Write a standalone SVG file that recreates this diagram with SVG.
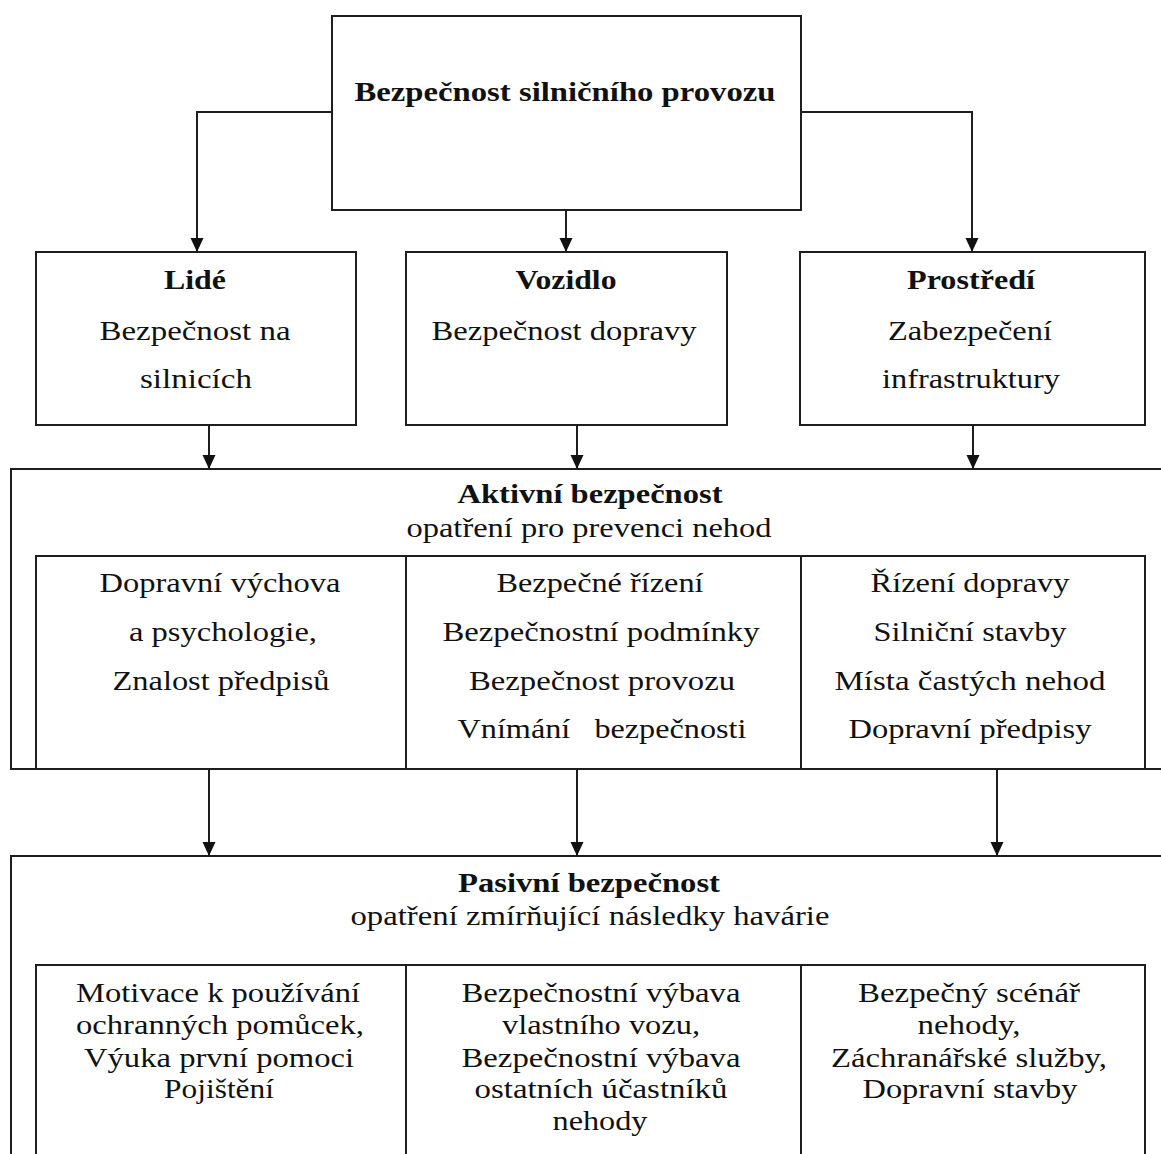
<svg xmlns="http://www.w3.org/2000/svg" width="1161" height="1154" viewBox="0 0 1161 1154">
<defs>
<style>
.box{fill:#fff;stroke:#1e1e1e;stroke-width:2}
.ln{fill:none;stroke:#1e1e1e;stroke-width:2}
.con{fill:none;stroke:#1e1e1e;stroke-width:2;marker-end:url(#ah)}
text{font-family:"Liberation Serif","Times New Roman",serif;font-size:27px;fill:#111;text-anchor:middle}
.b{font-weight:bold}
</style>
<marker id="ah" markerUnits="userSpaceOnUse" viewBox="0 -7 14 14" refX="14" refY="0" markerWidth="14" markerHeight="14" orient="auto">
<path d="M0,-6.5 L14,0 L0,6.5 Z" fill="#111"/>
</marker>
</defs>
<rect width="1161" height="1154" fill="#fff"/>

<g id="root">
<rect class="box" x="332" y="16" width="469" height="194"/>
<text class="b" x="565" y="101" textLength="421" lengthAdjust="spacingAndGlyphs">Bezpečnost silničního provozu</text>
</g>

<g id="lide">
<rect class="box" x="36" y="252" width="320" height="173"/>
<text class="b" x="195" y="289" textLength="62" lengthAdjust="spacingAndGlyphs">Lidé</text>
<text x="195" y="340" textLength="191" lengthAdjust="spacingAndGlyphs">Bezpečnost na</text>
<text x="196" y="388" textLength="112" lengthAdjust="spacingAndGlyphs">silnicích</text>
</g>

<g id="vozidlo">
<rect class="box" x="406" y="252" width="321" height="173"/>
<text class="b" x="566" y="289" textLength="101" lengthAdjust="spacingAndGlyphs">Vozidlo</text>
<text x="564" y="340" textLength="265" lengthAdjust="spacingAndGlyphs">Bezpečnost dopravy</text>
</g>

<g id="prostredi">
<rect class="box" x="800" y="252" width="345" height="173"/>
<text class="b" x="971" y="289" textLength="128" lengthAdjust="spacingAndGlyphs">Prostředí</text>
<text x="970" y="340" textLength="164" lengthAdjust="spacingAndGlyphs">Zabezpečení</text>
<text x="971" y="388" textLength="178" lengthAdjust="spacingAndGlyphs">infrastruktury</text>
</g>

<g id="aktivni">
<rect class="box" x="11" y="469" width="1170" height="300"/>
<text class="b" x="590" y="503" textLength="265" lengthAdjust="spacingAndGlyphs">Aktivní bezpečnost</text>
<text x="589" y="537" textLength="365" lengthAdjust="spacingAndGlyphs">opatření pro prevenci nehod</text>
<rect class="box" x="36" y="556" width="1109" height="213"/>
<line class="ln" x1="406" y1="556" x2="406" y2="769"/>
<line class="ln" x1="801" y1="556" x2="801" y2="769"/>
<g id="aktivni-lide">
<text x="220" y="592" textLength="241" lengthAdjust="spacingAndGlyphs">Dopravní výchova</text>
<text x="223" y="641" textLength="188" lengthAdjust="spacingAndGlyphs">a psychologie,</text>
<text x="221" y="690" textLength="217" lengthAdjust="spacingAndGlyphs">Znalost předpisů</text>
</g>
<g id="aktivni-vozidlo">
<text x="600" y="592" textLength="207" lengthAdjust="spacingAndGlyphs">Bezpečné řízení</text>
<text x="601" y="641" textLength="317" lengthAdjust="spacingAndGlyphs">Bezpečnostní podmínky</text>
<text x="602" y="690" textLength="266" lengthAdjust="spacingAndGlyphs">Bezpečnost provozu</text>
<text x="602" y="738" textLength="289" lengthAdjust="spacingAndGlyphs" style="white-space:pre">Vnímání   bezpečnosti</text>
</g>
<g id="aktivni-prostredi">
<text x="970" y="592" textLength="199" lengthAdjust="spacingAndGlyphs">Řízení dopravy</text>
<text x="970" y="641" textLength="193" lengthAdjust="spacingAndGlyphs">Silniční stavby</text>
<text x="970" y="690" textLength="271" lengthAdjust="spacingAndGlyphs">Místa častých nehod</text>
<text x="970" y="738" textLength="243" lengthAdjust="spacingAndGlyphs">Dopravní předpisy</text>
</g>
</g>

<g id="pasivni">
<rect class="box" x="11" y="856" width="1170" height="320"/>
<text class="b" x="589" y="892" textLength="262" lengthAdjust="spacingAndGlyphs">Pasivní bezpečnost</text>
<text x="590" y="925" textLength="479" lengthAdjust="spacingAndGlyphs">opatření zmírňující následky havárie</text>
<rect class="box" x="36" y="965" width="1109" height="210"/>
<line class="ln" x1="406" y1="965" x2="406" y2="1160"/>
<line class="ln" x1="801" y1="965" x2="801" y2="1160"/>
<g id="pasivni-lide">
<text x="218" y="1002" textLength="284" lengthAdjust="spacingAndGlyphs">Motivace k používání</text>
<text x="220" y="1034" textLength="288" lengthAdjust="spacingAndGlyphs">ochranných pomůcek,</text>
<text x="219" y="1067" textLength="270" lengthAdjust="spacingAndGlyphs">Výuka první pomoci</text>
<text x="219" y="1098" textLength="110" lengthAdjust="spacingAndGlyphs">Pojištění</text>
</g>
<g id="pasivni-vozidlo">
<text x="601" y="1002" textLength="279" lengthAdjust="spacingAndGlyphs">Bezpečnostní výbava</text>
<text x="601" y="1034" textLength="198" lengthAdjust="spacingAndGlyphs">vlastního vozu,</text>
<text x="601" y="1067" textLength="279" lengthAdjust="spacingAndGlyphs">Bezpečnostní výbava</text>
<text x="601" y="1098" textLength="253" lengthAdjust="spacingAndGlyphs">ostatních účastníků</text>
<text x="600" y="1130" textLength="95" lengthAdjust="spacingAndGlyphs">nehody</text>
</g>
<g id="pasivni-prostredi">
<text x="969" y="1002" textLength="222" lengthAdjust="spacingAndGlyphs">Bezpečný scénář</text>
<text x="969" y="1034" textLength="103" lengthAdjust="spacingAndGlyphs">nehody,</text>
<text x="969" y="1067" textLength="276" lengthAdjust="spacingAndGlyphs">Záchranářské služby,</text>
<text x="970" y="1098" textLength="215" lengthAdjust="spacingAndGlyphs">Dopravní stavby</text>
</g>
</g>

<g id="connectors">
<path class="con" d="M332,112 H197 V252"/>
<path class="con" d="M566,210 V252"/>
<path class="con" d="M801,112 H972 V252"/>
<path class="con" d="M209,425 V469"/>
<path class="con" d="M577,425 V469"/>
<path class="con" d="M973,425 V469"/>
<path class="con" d="M209,770 V856"/>
<path class="con" d="M577,770 V856"/>
<path class="con" d="M997,770 V856"/>
</g>
</svg>
